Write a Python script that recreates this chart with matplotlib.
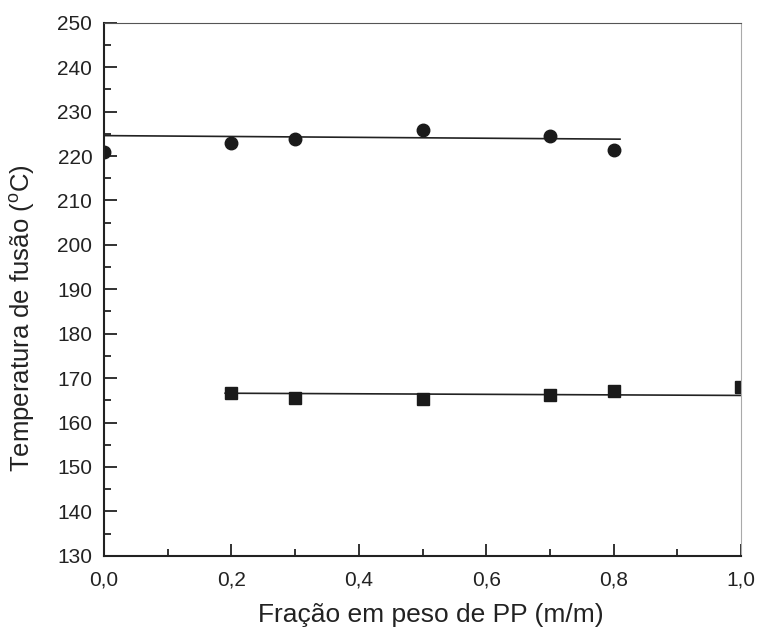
import matplotlib
matplotlib.use("Agg")
import matplotlib.pyplot as plt
from matplotlib.ticker import MultipleLocator, FixedLocator

plt.rcParams['font.family'] = ['Liberation Sans', 'DejaVu Sans']
plt.rcParams['mathtext.default'] = 'regular'

# Data
circ_x = [0.0, 0.2, 0.3, 0.5, 0.7, 0.8]
circ_y = [220.9, 222.9, 223.8, 225.8, 224.6, 221.4]
circ_fit_x = [0.0, 0.81]
circ_fit_y = [224.6, 223.8]

sq_x = [0.2, 0.3, 0.5, 0.7, 0.8, 1.0]
sq_y = [166.6, 165.5, 165.3, 166.2, 167.1, 168.1]
sq_fit_x = [0.19, 1.0]
sq_fit_y = [166.6, 166.1]

x_ticks = [0.0, 0.2, 0.4, 0.6, 0.8, 1.0]
x_ticklabels = ['0,0', '0,2', '0,4', '0,6', '0,8', '1,0']
y_ticks = list(range(130, 251, 10))

fig = plt.figure(figsize=(7.6, 6.33), dpi=100)
ax = fig.add_axes([0.137, 0.122, 0.838, 0.842])

ax.plot(circ_fit_x, circ_fit_y, color='#222222', lw=1.2)
ax.plot(sq_fit_x, sq_fit_y, color='#222222', lw=1.2)
ax.plot(circ_x, circ_y, 'o', color='#1a1a1a', ms=9, ls='none')
ax.plot(sq_x, sq_y, 's', color='#1a1a1a', ms=8, ls='none')

ax.set_xlim(0, 1.0)
ax.set_ylim(130, 250)
ax.xaxis.set_major_locator(FixedLocator(x_ticks))
ax.set_xticklabels(x_ticklabels)
ax.xaxis.set_minor_locator(MultipleLocator(0.1))
ax.yaxis.set_major_locator(FixedLocator(y_ticks))
ax.yaxis.set_minor_locator(MultipleLocator(5))

ax.tick_params(which='both', direction='in', top=False, right=False,
               labelsize=15, colors='#222222', width=1.3)
ax.tick_params(which='major', length=9)
ax.tick_params(which='minor', length=5)
ax.tick_params(axis='x', which='major', pad=10.5)
ax.tick_params(axis='y', which='major', pad=8.5)

ax.spines['left'].set_linewidth(1.5)
ax.spines['bottom'].set_linewidth(1.5)
ax.spines['left'].set_color('#222222')
ax.spines['bottom'].set_color('#222222')
ax.spines['top'].set_linewidth(0.8)
ax.spines['top'].set_color('#555555')
ax.spines['right'].set_linewidth(0.8)
ax.spines['right'].set_color('#aaaaaa')

ax.set_xlabel('Fração em peso de PP (m/m)', fontsize=19, color='#222222')
ax.set_ylabel('Temperatura de fusão ($^{o}$C)', fontsize=18.5, color='#222222')
ax.xaxis.set_label_coords(0.5126, -0.088)
ax.yaxis.set_label_coords(-0.105, 0.445)

fig.savefig('out.png', dpi=100)
